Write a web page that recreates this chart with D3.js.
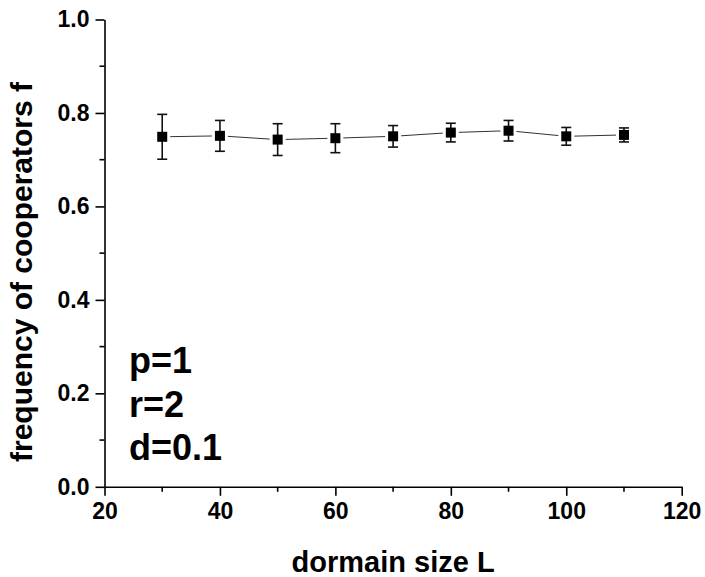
<!DOCTYPE html>
<html>
<head>
<meta charset="utf-8">
<script src="https://cdn.jsdelivr.net/npm/d3@7"></script>
<style>
  body { margin: 0; background: #fff; }
  text { font-family: "Liberation Sans", Arial, sans-serif; font-weight: bold; }
</style>
</head>
<body>
<div id="chart"></div>
<script>
// dormain size L vs frequency of cooperators
var sizes = [30, 40, 50, 60, 70, 80, 90, 100, 110];
var freq = [0.749, 0.751, 0.743, 0.746, 0.750, 0.758, 0.762, 0.750, 0.753];
var errs = [0.048, 0.033, 0.034, 0.031, 0.023, 0.020, 0.022, 0.019, 0.015];
var xTicks = [20, 40, 60, 80, 100, 120];
var xMinor = [30, 50, 70, 90, 110];
var yTicks = [0, 0.2, 0.4, 0.6, 0.8, 1.0];
var yMinor = [0.1, 0.3, 0.5, 0.7, 0.9];
var notes = ["p=1", "r=2", "d=0.1"];

var W = 705, H = 577;
var margin = { top: 19.5, right: 23.3, bottom: 90.2, left: 104.5 };
var width = W - margin.left - margin.right,
  height = H - margin.top - margin.bottom;

var svg = d3.select("#chart").append("svg")
  .attr("width", W)
  .attr("height", H)
  .append("g")
  .attr("transform", "translate(" + margin.left + "," + margin.top + ")");

var x = d3.scaleLinear().domain([20, 120]).range([0, width]);
var y = d3.scaleLinear().domain([0, 1]).range([height, 0]);

// axes
var xAxis = d3.axisBottom(x).tickValues(xTicks).tickSize(9).tickSizeOuter(0).tickPadding(7)
  .tickFormat(d3.format("d"));
var gx = svg.append("g")
  .attr("transform", "translate(0," + height + ")")
  .call(xAxis);
gx.selectAll("text").style("font-size", "23px").attr("fill", "#000");

var yAxis = d3.axisLeft(y).tickValues(yTicks).tickSize(9).tickSizeOuter(0).tickPadding(6)
  .tickFormat(d3.format(".1f"));
var gy = svg.append("g").call(yAxis);
gy.selectAll("text").style("font-size", "23px").attr("fill", "#000");

// minor ticks
gx.selectAll(".minor").data(xMinor).enter().append("line")
  .attr("class", "minor")
  .attr("x1", function (d) { return x(d); })
  .attr("x2", function (d) { return x(d); })
  .attr("y1", 0).attr("y2", 5);
gy.selectAll(".minor").data(yMinor).enter().append("line")
  .attr("class", "minor")
  .attr("y1", function (d) { return y(d); })
  .attr("y2", function (d) { return y(d); })
  .attr("x1", 0).attr("x2", -5);

svg.selectAll(".domain, .tick line, .minor")
  .attr("stroke", "#000").attr("stroke-width", 1.6);

// connecting line with small gaps near the markers
var pts = sizes.map(function (s, i) { return { s: s, f: freq[i], e: errs[i] }; });
var gap = 8;
for (var i = 0; i < pts.length - 1; i++) {
  var x1 = x(pts[i].s), y1 = y(pts[i].f), x2 = x(pts[i + 1].s), y2 = y(pts[i + 1].f);
  var dx = x2 - x1, dy = y2 - y1, len = Math.sqrt(dx * dx + dy * dy);
  svg.append("line")
    .attr("x1", x1 + dx / len * gap).attr("y1", y1 + dy / len * gap)
    .attr("x2", x2 - dx / len * gap).attr("y2", y2 - dy / len * gap)
    .attr("stroke", "#333").attr("stroke-width", 1);
}

// error bars
var eb = svg.selectAll(".err").data(pts).enter().append("g").attr("class", "err");
eb.append("line")
  .attr("x1", function (d) { return x(d.s); })
  .attr("x2", function (d) { return x(d.s); })
  .attr("y1", function (d) { return y(d.f + d.e); })
  .attr("y2", function (d) { return y(d.f - d.e); });
eb.append("line")
  .attr("x1", function (d) { return x(d.s) - 5; })
  .attr("x2", function (d) { return x(d.s) + 5; })
  .attr("y1", function (d) { return y(d.f + d.e); })
  .attr("y2", function (d) { return y(d.f + d.e); });
eb.append("line")
  .attr("x1", function (d) { return x(d.s) - 5; })
  .attr("x2", function (d) { return x(d.s) + 5; })
  .attr("y1", function (d) { return y(d.f - d.e); })
  .attr("y2", function (d) { return y(d.f - d.e); });
eb.selectAll("line").attr("stroke", "#111").attr("stroke-width", 1.6);

// markers
svg.selectAll(".node").data(pts).enter().append("rect")
  .attr("class", "node")
  .attr("x", function (d) { return x(d.s) - 5; })
  .attr("y", function (d) { return y(d.f) - 5; })
  .attr("width", 10).attr("height", 10)
  .attr("fill", "#000");

// axis titles
svg.append("text")
  .attr("x", width / 2).attr("y", 572 - margin.top)
  .attr("text-anchor", "middle")
  .style("font-size", "29px")
  .text("dormain size L");

svg.append("text")
  .attr("transform", "translate(" + (32 - margin.left) + "," + (272 - margin.top) + ") rotate(-90)")
  .attr("text-anchor", "middle")
  .style("font-size", "30px")
  .text("frequency of cooperators f");

// parameter notes
svg.selectAll(".note").data(notes).enter().append("text")
  .attr("class", "note")
  .attr("x", 129 - margin.left)
  .attr("y", function (d, i) { return 373 - margin.top + i * 43.5; })
  .style("font-size", "36px")
  .text(function (d) { return d; });
</script>
</body>
</html>
